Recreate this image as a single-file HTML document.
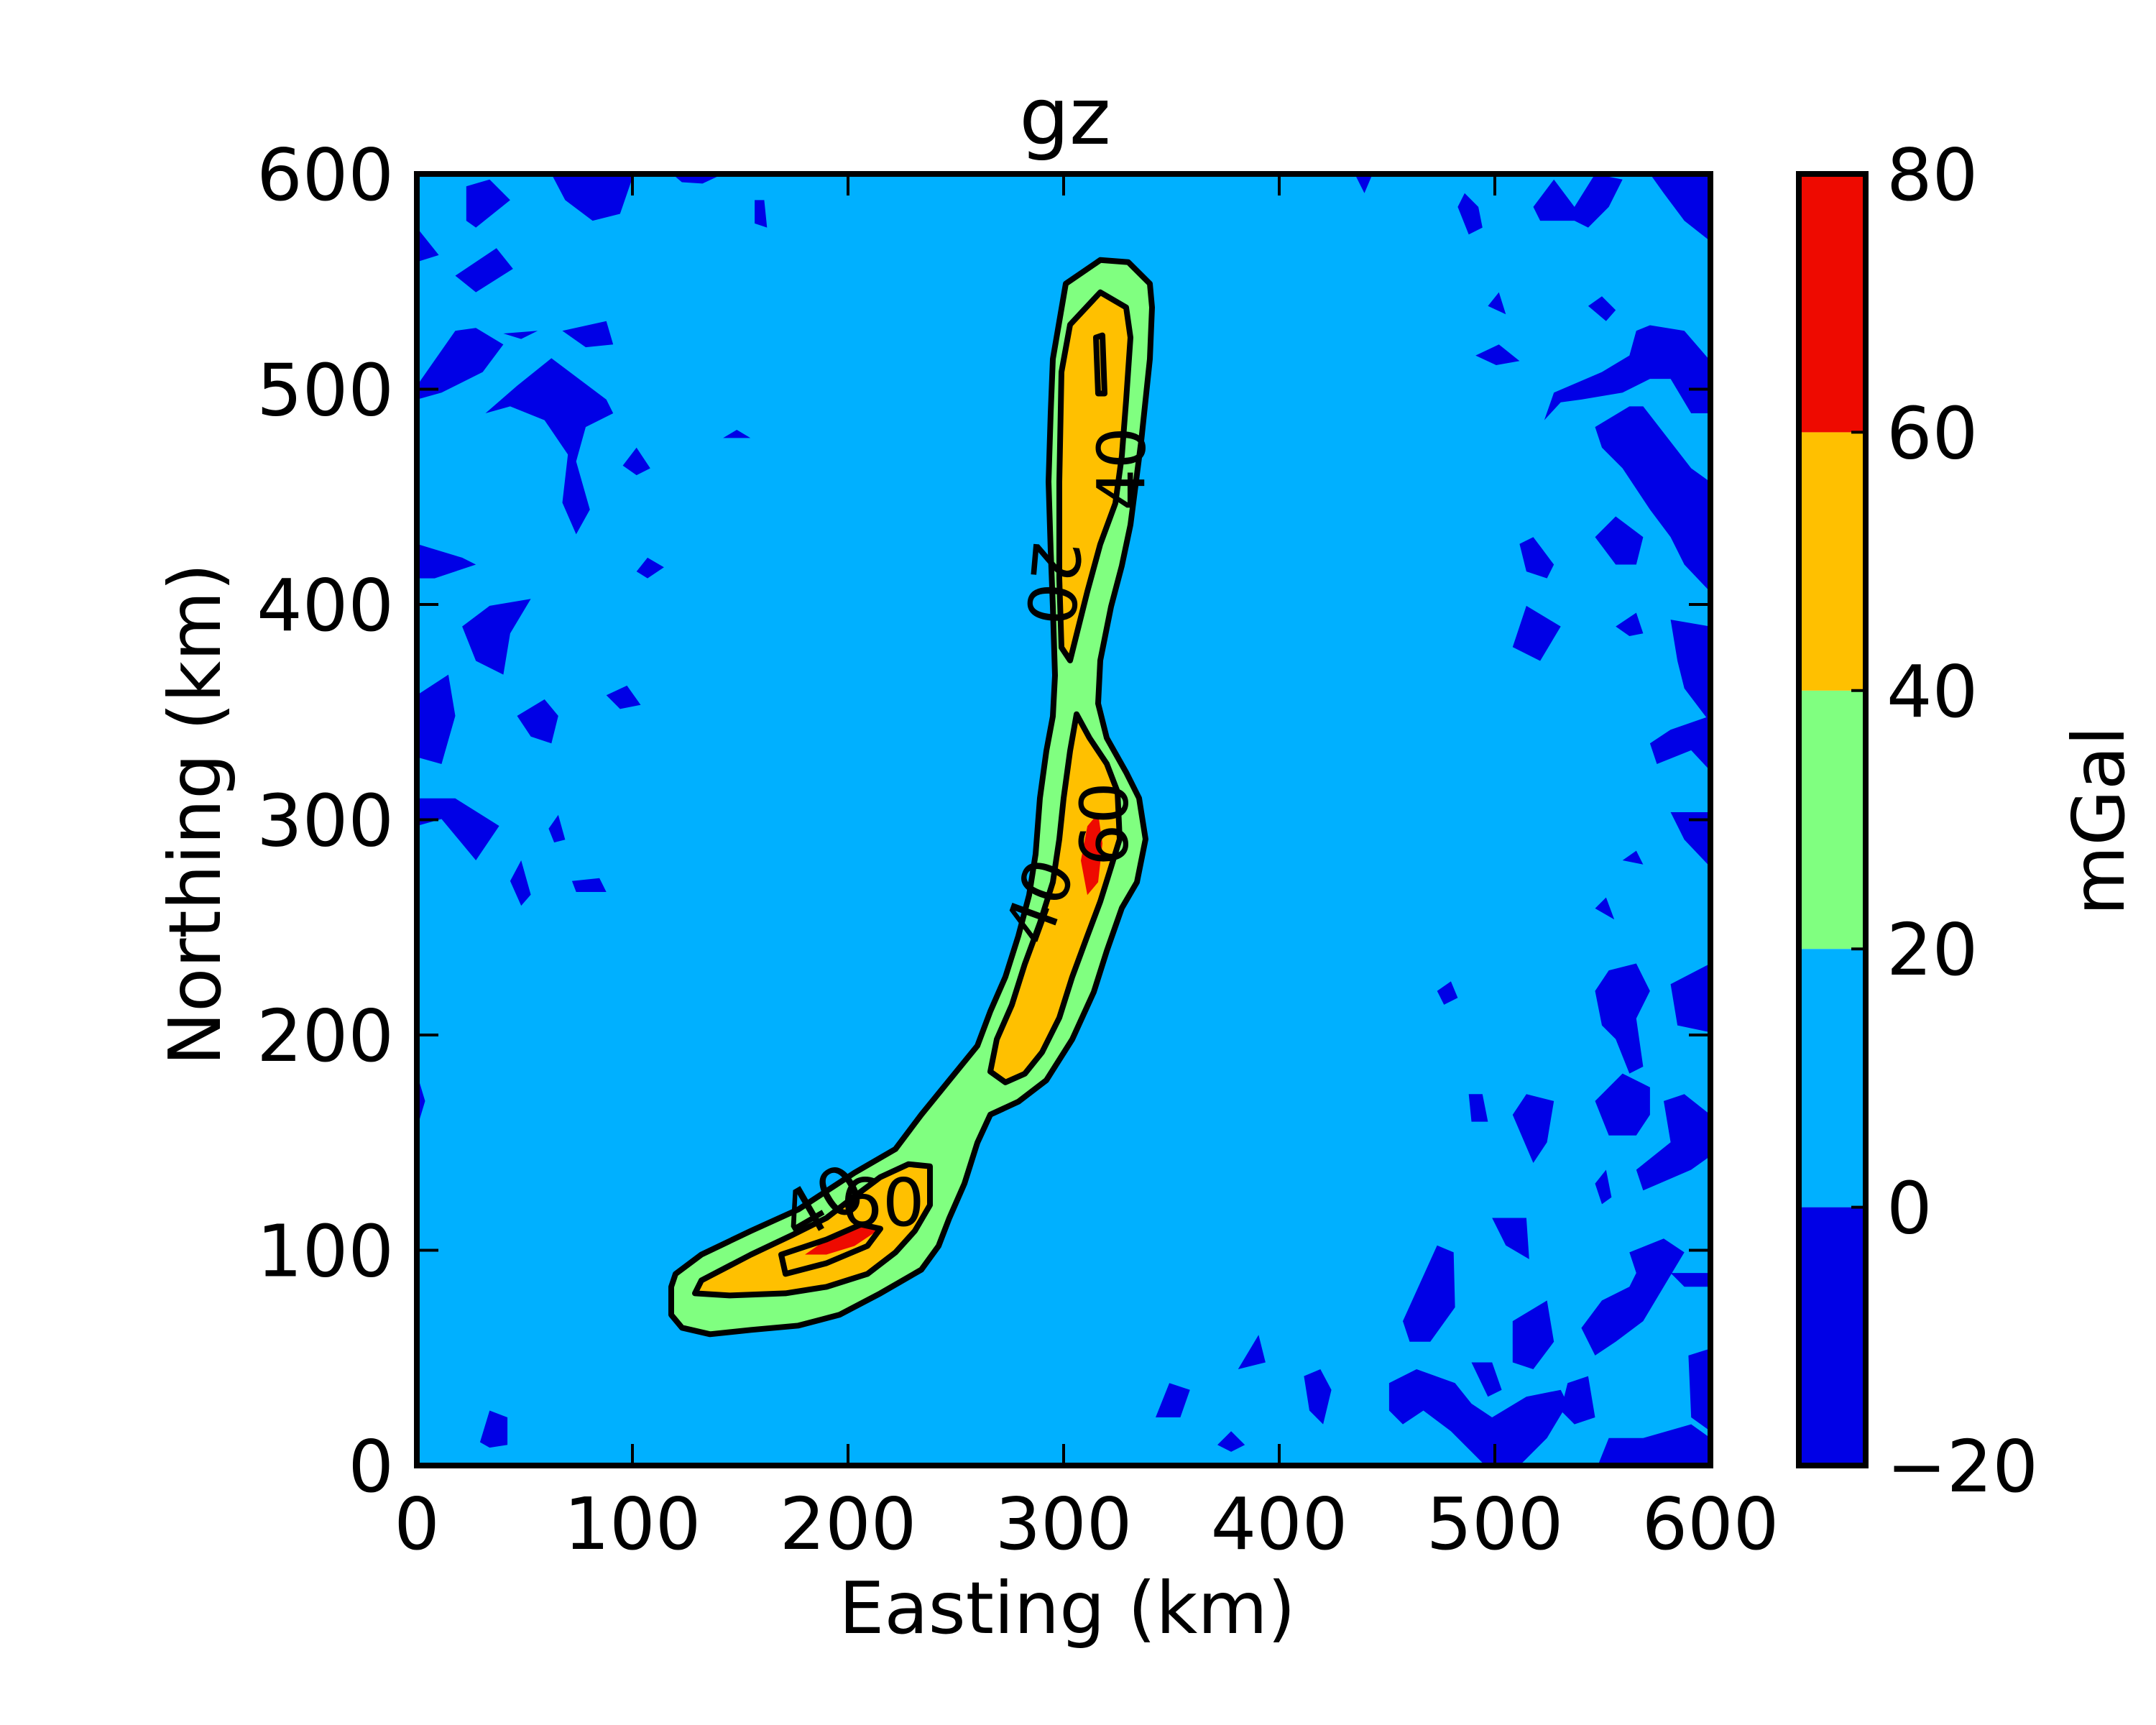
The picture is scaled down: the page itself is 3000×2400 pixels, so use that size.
<!DOCTYPE html>
<html><head><meta charset="utf-8"><style>
html,body{margin:0;padding:0;background:#fff;}
svg{display:block;}
text{font-family:"DejaVu Sans","Liberation Sans",sans-serif;fill:#000;}
</style></head><body>
<svg id="chart" width="3000" height="2400" viewBox="0 0 3000 2400" xmlns="http://www.w3.org/2000/svg">
<defs><clipPath id="plotclip"><rect x="580" y="242" width="1800" height="1797"/></clipPath></defs>
<rect x="0" y="0" width="3000" height="2400" fill="#fff"/>
<g id="plot" clip-path="url(#plotclip)">
<rect x="580" y="242" width="1800" height="1797" fill="#00B0FF"/>
<g id="blue"></g>
<g id="fills"></g>
<g id="lines"></g>
</g>
<g id="labels"></g>
<rect x="580" y="242" width="1800" height="1797" fill="none" stroke="#000" stroke-width="8"/>
<g id="ticks"></g>
<g id="cbar"></g>
<text x="1482" y="200" font-size="110" text-anchor="middle">gz</text>
<text x="1485" y="2272" font-size="100" text-anchor="middle">Easting (km)</text>
<text transform="translate(306,1133) rotate(-90)" font-size="100" text-anchor="middle">Northing (km)</text>
<text transform="translate(2955,1142) rotate(-90)" font-size="100" text-anchor="middle">mGal</text>
</svg>
<script>
const xTicks = [0,100,200,300,400,500,600];
const yTicks = [0,100,200,300,400,500,600];
const levels = [-20,0,20,40,60,80];
const levelColors = ["#0000E6","#00B0FF","#80FF80","#FFC000","#EE0A00"];
const contour20 = [[118,83],[120,89],[132,98],[155,109],[177,119],[203,136],[222,147],[234,163],[247,179],[260,195],[266,211],[273,227],[279,246],[284,265],[287,284],[289,310],[292,332],[295,348],[296,367],[295,399],[294,425],[293,457],[294,489],[295,514],[301,549],[317,560],[330,559],[340,549],[341,538],[340,514],[336,476],[331,437],[327,418],[322,399],[317,374],[316,354],[320,338],[329,322],[335,310],[338,291],[334,271],[327,259],[320,239],[314,220],[304,198],[292,179],[279,169],[266,163],[260,150],[254,131],[247,115],[242,102],[234,91],[215,80],[196,70],[177,65],[155,63],[136,61],[123,64],[118,70]];
const contour40Low = [[129,80],[132,86],[155,98],[174,107],[190,115],[203,125],[215,134],[228,140],[238,139],[238,121],[231,109],[222,99],[209,89],[190,83],[171,80],[145,79]];
const contour40Mid = [[266,183],[269,198],[276,214],[282,233],[289,252],[295,271],[298,291],[300,310],[303,332],[306,349],[312,338],[320,326],[325,313],[326,291],[322,278],[317,262],[311,246],[304,227],[298,208],[290,192],[282,182],[273,178]];
const contour40Top = [[303,374],[299,380],[298,412],[298,457],[299,508],[303,530],[317,545],[329,538],[331,524],[329,495],[327,469],[324,447],[317,428],[311,406],[306,386]];
const contour60Low = [[169,98],[190,105],[206,112],[215,110],[209,102],[190,94],[171,89]];
const red60Low = [[180,98],[193,107],[206,112],[215,110],[203,102],[190,98]];
const red60Mid = [[308,281],[311,297],[316,303],[318,289],[316,271],[311,265]];
const contour60Top = [[315,524],[318,525],[319,498],[316,498]];
const negPatchesPx = [
[[338,135],[355,130],[370,145],[345,165],[338,160]],
[[400,126],[460,126],[450,155],[430,160],[410,145]],
[[488,126],[525,126],[510,133],[495,132]],
[[548,145],[555,145],[557,165],[548,162]],
[[330,200],[360,180],[372,195],[345,212]],
[[302,165],[318,185],[302,190]],
[[302,280],[330,240],[345,238],[365,250],[350,270],[320,285],[302,290]],
[[365,242],[390,240],[378,246]],
[[408,240],[440,233],[445,250],[425,252]],
[[352,300],[375,280],[400,260],[440,290],[445,300],[425,310],[418,335],[428,370],[418,388],[408,365],[412,330],[395,305],[370,295]],
[[302,395],[335,405],[345,410],[315,420],[302,420]],
[[335,455],[355,440],[385,435],[370,460],[365,490],[345,480]],
[[302,505],[325,490],[330,520],[320,555],[302,550]],
[[375,520],[395,508],[405,520],[400,540],[385,535]],
[[302,580],[330,580],[362,600],[345,625],[320,595],[302,600]],
[[440,505],[455,498],[465,512],[450,515]],
[[452,338],[462,325],[472,340],[462,345]],
[[462,415],[470,405],[482,412],[470,420]],
[[398,602],[405,592],[410,610],[402,612]],
[[370,640],[378,625],[385,650],[378,658]],
[[415,640],[435,638],[440,648],[418,648]],
[[525,318],[535,312],[545,318]],
[[348,1048],[355,1025],[368,1030],[368,1050],[355,1052]],
[[302,780],[308,800],[302,820]],
[[1060,150],[1065,140],[1075,150],[1078,165],[1068,170]],
[[1115,150],[1130,130],[1145,150],[1160,126],[1180,130],[1170,150],[1155,165],[1145,160],[1120,160]],
[[1200,126],[1244,126],[1244,175],[1225,160],[1210,140]],
[[1082,222],[1090,212],[1095,228]],
[[1155,222],[1165,215],[1175,225],[1168,233]],
[[1073,258],[1090,250],[1105,262],[1088,265]],
[[1123,305],[1130,285],[1165,270],[1185,258],[1190,240],[1200,236],[1225,240],[1244,262],[1244,300],[1230,300],[1215,275],[1200,275],[1180,285],[1150,290],[1135,292]],
[[1160,310],[1185,295],[1195,295],[1230,340],[1244,350],[1244,430],[1225,410],[1215,390],[1200,370],[1180,340],[1165,325]],
[[1105,395],[1115,390],[1130,410],[1125,420],[1110,415]],
[[1160,390],[1175,375],[1195,390],[1190,410],[1175,410]],
[[1100,470],[1110,440],[1135,455],[1120,480]],
[[1175,455],[1190,445],[1195,460],[1185,462]],
[[1215,450],[1244,455],[1244,525],[1225,500],[1220,480]],
[[1200,540],[1215,530],[1244,520],[1244,560],[1230,545],[1205,555]],
[[1215,590],[1244,590],[1244,630],[1225,610]],
[[1180,625],[1190,618],[1195,628]],
[[1160,660],[1168,652],[1174,668]],
[[1045,720],[1055,713],[1060,725],[1050,730]],
[[1160,720],[1170,705],[1190,700],[1200,720],[1190,740],[1195,775],[1185,780],[1175,755],[1165,745]],
[[1215,715],[1244,700],[1244,750],[1220,745]],
[[1068,795],[1078,795],[1082,815],[1070,815]],
[[1100,810],[1110,795],[1130,800],[1125,830],[1115,845]],
[[1160,800],[1180,780],[1200,790],[1200,810],[1190,825],[1170,825]],
[[1210,800],[1225,795],[1244,810],[1244,840],[1230,850],[1195,865],[1190,850],[1215,830]],
[[1160,860],[1168,850],[1172,870],[1165,875]],
[[1085,885],[1110,885],[1112,915],[1095,905]],
[[1185,910],[1210,900],[1225,910],[1210,935],[1195,960],[1175,975],[1160,985],[1150,965],[1165,945],[1185,935],[1190,925]],
[[1215,925],[1244,925],[1244,935],[1225,935]],
[[1020,960],[1045,905],[1057,910],[1058,950],[1040,975],[1025,975]],
[[1100,960],[1125,945],[1130,975],[1115,995],[1100,990]],
[[1070,990],[1085,990],[1092,1010],[1082,1015]],
[[1010,1005],[1030,995],[1058,1005],[1070,1020],[1085,1030],[1110,1015],[1135,1010],[1140,1020],[1125,1045],[1105,1065],[1080,1065],[1055,1040],[1035,1025],[1020,1035],[1010,1025]],
[[1135,1025],[1140,1005],[1155,1000],[1160,1030],[1145,1035]],
[[1162,1065],[1170,1045],[1195,1045],[1230,1035],[1244,1045],[1244,1065]],
[[1228,985],[1244,980],[1244,1040],[1230,1030]],
[[840,1030],[850,1005],[865,1010],[858,1030]],
[[900,995],[915,970],[920,990]],
[[885,1050],[895,1040],[905,1050],[895,1055]],
[[948,1000],[960,995],[968,1010],[962,1035],[952,1025]],
[[985,126],[998,126],[992,140]]
];
const tickFont = 100;
</script>
<script>
const NS = "http://www.w3.org/2000/svg";
const X0=580, X1=2380, Y0=2039, Y1=242;
function sx(e){ return X0 + e*(X1-X0)/600; }
function sy(n){ return Y0 - n*(Y0-Y1)/600; }
function pxToKm(p){ return [(p[0]-302)*600/942, (1065-p[1])*600/939]; }
function pts(arr){ return arr.map(p=>sx(p[0]).toFixed(1)+","+sy(p[1]).toFixed(1)).join(" "); }
function poly(parent, arr, fill, stroke, name){
  const el=document.createElementNS(NS,"polygon");
  el.setAttribute("points", pts(arr));
  el.setAttribute("fill", fill);
  if(stroke){ el.setAttribute("stroke", stroke); el.setAttribute("stroke-width","8"); el.setAttribute("stroke-linejoin","round"); }
  
  
  parent.appendChild(el);
}
const gBlue=document.getElementById("blue");
negPatchesPx.forEach(p=>poly(gBlue, p.map(pxToKm), levelColors[0], null, "negative-patch"));
const gF=document.getElementById("fills");
poly(gF, contour20, levelColors[2], null, "fill-20-40");
poly(gF, contour40Low, levelColors[3], null, "fill-40-60-south");
poly(gF, contour40Mid, levelColors[3], null, "fill-40-60-middle");
poly(gF, contour40Top, levelColors[3], null, "fill-40-60-north");
poly(gF, red60Low, levelColors[4], null, "fill-60-south");
poly(gF, red60Mid, levelColors[4], null, "fill-60-middle");
const gL=document.getElementById("lines");
[[contour20,"contour-20"],[contour40Low,"contour-40-south"],[contour40Mid,"contour-40-middle"],[contour40Top,"contour-40-north"],[contour60Low,"contour-60-south"],[contour60Top,"contour-60-north"]].forEach(c=>poly(gL,c[0],"none","#000",c[1]));
const cl=[["20",295,410,95],["40",327,463,-90],["40",289,262,-70],["60",319,298,-90],["40",188,122,-30],["60",216,122,0]];
const gLab=document.getElementById("labels");
cl.forEach(c=>{
  const t=document.createElementNS(NS,"text");
  t.setAttribute("transform",`translate(${sx(c[1])},${sy(c[2])}) rotate(${c[3]})`);
  t.setAttribute("font-size","92");
  t.setAttribute("text-anchor","middle");
  t.setAttribute("dominant-baseline","central");
  t.textContent=c[0];
  
  
  gLab.appendChild(t);
});
const gT=document.getElementById("ticks");
function line(parent,x1,y1,x2,y2,name){
  const l=document.createElementNS(NS,"line");
  l.setAttribute("x1",x1);l.setAttribute("y1",y1);l.setAttribute("x2",x2);l.setAttribute("y2",y2);
  l.setAttribute("stroke","#000");l.setAttribute("stroke-width","4");
  
  
  parent.appendChild(l);
}
function txt(parent,x,y,s,anchor,name){
  const t=document.createElementNS(NS,"text");
  t.setAttribute("x",x);t.setAttribute("y",y);t.setAttribute("font-size",tickFont);
  t.setAttribute("text-anchor",anchor);
  t.textContent=s;
  
  
  parent.appendChild(t);
}
xTicks.forEach(v=>{
  line(gT,sx(v),Y0,sx(v),Y0-30,"x-tick");
  line(gT,sx(v),Y1,sx(v),Y1+30,"x-tick-top");
  txt(gT,sx(v),2155,String(v),"middle","x-tick-label");
});
yTicks.forEach(v=>{
  line(gT,X0,sy(v),X0+30,sy(v),"y-tick");
  line(gT,X1,sy(v),X1-30,sy(v),"y-tick-right");
  txt(gT,548,sy(v)+36,String(v),"end","y-tick-label");
});
const gC=document.getElementById("cbar");
const CX=2503, CW=93;
function cy(v){ return Y0 - (v-levels[0])*(Y0-Y1)/(levels[levels.length-1]-levels[0]); }
for(let i=0;i<levels.length-1;i++){
  const r=document.createElementNS(NS,"rect");
  r.setAttribute("x",CX);r.setAttribute("y",cy(levels[i+1]));r.setAttribute("width",CW);
  r.setAttribute("height",cy(levels[i])-cy(levels[i+1]));r.setAttribute("fill",levelColors[i]);
  
  
  gC.appendChild(r);
}
const fr=document.createElementNS(NS,"rect");
fr.setAttribute("x",CX);fr.setAttribute("y",Y1);fr.setAttribute("width",CW);fr.setAttribute("height",Y0-Y1);
fr.setAttribute("fill","none");fr.setAttribute("stroke","#000");fr.setAttribute("stroke-width","8");


gC.appendChild(fr);
levels.forEach(v=>{
  line(gC,CX+CW,cy(v),CX+CW-20,cy(v),"colorbar-tick");
  txt(gC,2625,cy(v)+36,v<0?"\u2212"+Math.abs(v):String(v),"start","colorbar-tick-label");
});
</script>
</body></html>
